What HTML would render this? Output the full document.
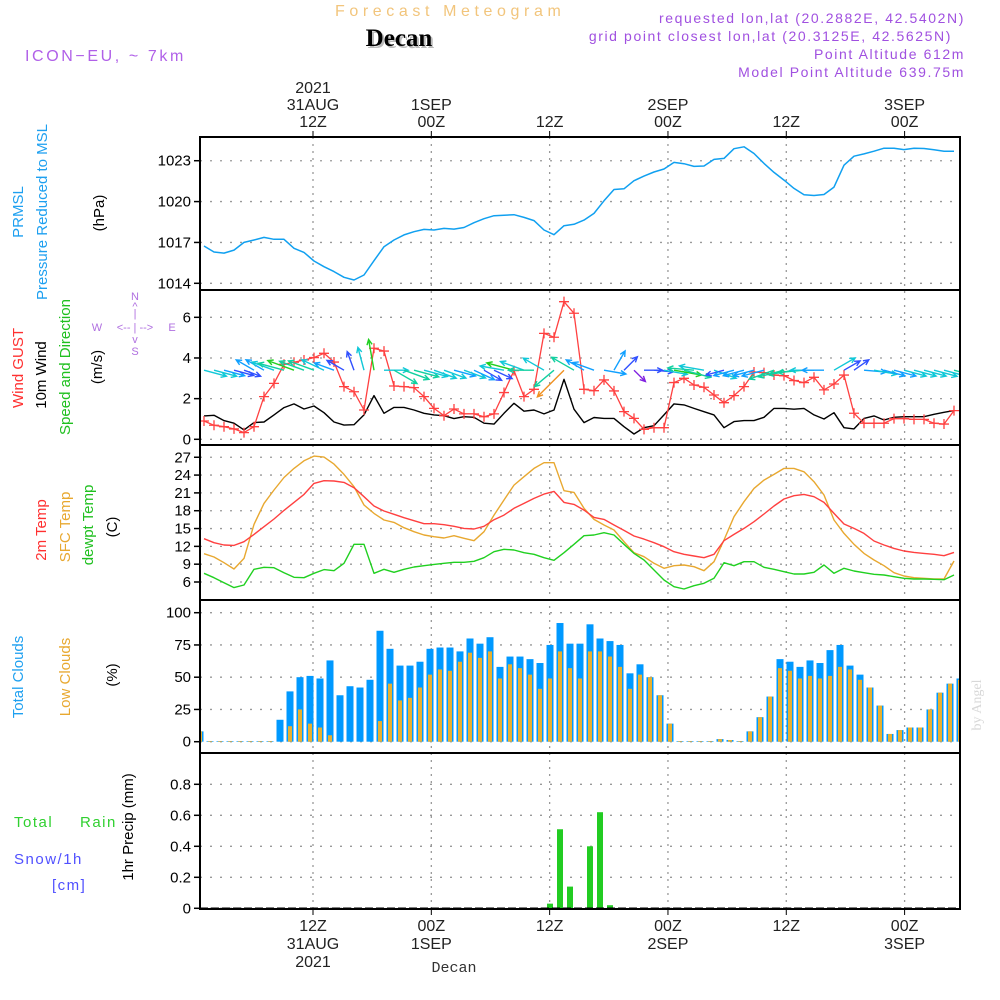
<!DOCTYPE html>
<html><head><meta charset="utf-8"><style>
html,body{margin:0;padding:0;background:#fff;}
svg{display:block;font-family:"Liberation Sans",sans-serif;}
</style></head><body>
<svg id="chart" width="1000" height="1000" viewBox="0 0 1000 1000" xmlns="http://www.w3.org/2000/svg">
<rect x="0" y="0" width="1000" height="1000" fill="#fff"/>
<text x="335" y="16" font-size="16" fill="#f2c57c" letter-spacing="4.6">Forecast Meteogram</text>
<text x="401" y="48" font-size="25" font-weight="bold" font-family="Liberation Serif, serif" fill="#bbb" text-anchor="middle">Decan</text>
<text x="399" y="46" font-size="25" font-weight="bold" font-family="Liberation Serif, serif" fill="#000" text-anchor="middle">Decan</text>
<text x="25" y="61" font-size="16" fill="#b060e8" letter-spacing="2.6">ICON−EU,  ~  7km</text>
<g font-size="14" fill="#a050e0" text-anchor="end" letter-spacing="1.6">
<text x="965" y="23">requested lon,lat (20.2882E, 42.5402N)</text>
<text x="952" y="41">grid point closest lon,lat (20.3125E, 42.5625N)</text>
<text x="965" y="59">Point Altitude 612m</text>
<text x="965" y="77">Model Point Altitude 639.75m</text>
</g>
<g id="topAxis" font-size="16" fill="#222" text-anchor="middle"></g>
<g id="bottomAxis" font-size="16" fill="#222" text-anchor="middle"></g>
<text x="454" y="972" font-size="15" font-family="Liberation Mono, monospace" fill="#333" text-anchor="middle">Decan</text>
<g id="grid"></g>
<g id="marks"></g>
<g id="frames"></g>
<g id="yticks" font-size="15" fill="#000" text-anchor="end"></g>
<g font-size="15">
<text transform="translate(23,212) rotate(-90)" text-anchor="middle" fill="#1ea0f0">PRMSL</text>
<text transform="translate(47,212) rotate(-90)" text-anchor="middle" fill="#1ea0f0">Pressure Reduced to MSL</text>
<text transform="translate(104,213) rotate(-90)" text-anchor="middle" fill="#000">(hPa)</text>
<text transform="translate(23,368) rotate(-90)" text-anchor="middle" fill="#ff3030">Wind GUST</text>
<text transform="translate(46,375) rotate(-90)" text-anchor="middle" fill="#000">10m Wind</text>
<text transform="translate(70,367) rotate(-90)" text-anchor="middle" fill="#20c020">Speed and Direction</text>
<text transform="translate(102,367) rotate(-90)" text-anchor="middle" fill="#000">(m/s)</text>
<text transform="translate(46,530) rotate(-90)" text-anchor="middle" fill="#ff3030">2m Temp</text>
<text transform="translate(70,527) rotate(-90)" text-anchor="middle" fill="#e8a830">SFC Temp</text>
<text transform="translate(93,525) rotate(-90)" text-anchor="middle" fill="#20c020">dewpt Temp</text>
<text transform="translate(117,527) rotate(-90)" text-anchor="middle" fill="#000">(C)</text>
<text transform="translate(23,677) rotate(-90)" text-anchor="middle" fill="#1ea0f0">Total Clouds</text>
<text transform="translate(70,677) rotate(-90)" text-anchor="middle" fill="#e8a830">Low Clouds</text>
<text transform="translate(117,675) rotate(-90)" text-anchor="middle" fill="#000">(%)</text>
<text transform="translate(133,827) rotate(-90)" text-anchor="middle" fill="#000">1hr Precip (mm)</text>
</g>
<g font-size="15" letter-spacing="1.5">
<text x="14" y="827" fill="#30d030">Total</text>
<text x="80" y="827" fill="#30d030">Rain</text>
<text x="14" y="864" fill="#5050ff">Snow/1h</text>
<text x="52" y="890" fill="#5050ff">[cm]</text>
</g>
<g font-size="11" fill="#b070e0" text-anchor="middle">
<text x="135" y="300">N</text>
<text x="135" y="310">^</text>
<text x="135" y="317">|</text>
<text x="97" y="331">W</text>
<text x="135" y="331">&lt;-- | --&gt;</text>
<text x="172" y="331">E</text>
<text x="135" y="343">v</text>
<text x="135" y="355">S</text>
</g>
<text transform="translate(981,705) rotate(-90)" font-size="14" font-family="Liberation Serif, serif" fill="#d8d8d8" text-anchor="middle">by Angel</text>
</svg>
<script>
const timeLabelsTop = [["2021","31AUG","12Z"],["1SEP","00Z"],["12Z"],["2SEP","00Z"],["12Z"],["3SEP","00Z"]];
const timeLabelsBottom = [["12Z","31AUG","2021"],["00Z","1SEP"],["12Z"],["00Z","2SEP"],["12Z"],["00Z","3SEP"]];
const timeTickHours = [12,24,36,48,60,72];
const pressureTicks = [1014,1017,1020,1023];
const windTicks = [0,2,4,6];
const tempTicks = [6,9,12,15,18,21,24,27];
const cloudTicks = [0,25,50,75,100];
const precipTicks = [0,0.2,0.4,0.6,0.8];
const pressure = [1016.74,1016.30,1016.22,1016.44,1017.0,1017.18,1017.37,1017.23,1017.23,1016.57,1016.27,1015.64,1015.22,1014.86,1014.44,1014.24,1014.61,1015.66,1016.69,1017.18,1017.55,1017.79,1017.96,1017.91,1018.03,1017.98,1018.1,1018.45,1018.74,1018.96,1018.99,1019.04,1018.84,1018.6,1017.91,1017.57,1018.23,1018.33,
1018.64,1019.13,1020.06,1020.89,1020.94,1021.53,1021.87,1022.17,1022.39,1022.88,1022.78,1022.58,1022.61,1023.1,1023.17,1023.88,1024.02,1023.53,1022.8,1022.14,1021.58,1020.97,1020.5,1020.45,1020.52,1021.06,1022.67,1023.33,1023.5,1023.7,1023.92,1023.92,1023.82,1023.92,1023.9,1023.8,1023.7,1023.7];
const gust = [0.9,0.69,0.62,0.51,0.33,0.62,2.1,2.75,3.69,3.79,3.9,4.02,4.23,3.8,2.59,2.34,1.44,4.48,4.34,2.62,2.59,2.54,2.1,1.52,1.16,1.49,1.25,1.25,1.11,1.25,2.3,3.38,2.1,2.46,5.21,5.02,6.77,6.2,
2.46,2.39,2.92,2.38,1.36,1.03,0.49,0.57,0.57,2.79,3.0,2.67,2.56,2.18,1.8,2.15,2.59,3.31,3.28,3.16,3.13,2.89,2.79,3.05,2.43,2.72,3.16,1.28,0.79,0.79,0.79,1.02,1.02,0.98,0.98,0.79,0.75,1.41];
const wind10 = [1.15,1.18,0.92,0.79,0.46,0.82,0.85,1.2,1.56,1.74,1.49,1.64,1.31,0.85,0.7,0.72,1.2,2.15,1.28,1.57,1.57,1.44,1.28,1.2,1.16,1.02,1.11,1.08,0.79,0.75,1.28,1.77,1.38,1.44,1.25,1.44,2.95,1.48,
0.82,1.07,1.03,1.03,0.62,0.26,0.57,0.67,1.2,1.74,1.69,1.52,1.36,1.2,0.57,0.87,0.92,0.92,1.08,1.52,1.52,1.48,1.52,1.2,1.0,1.31,0.57,0.51,1.03,1.15,0.95,1.08,1.11,1.11,1.11,1.23,1.33,1.41];
const windDir = [-15,-15,-15,-15,-20,150,150,160,165,160,160,160,155,160,150,110,105,100,0,-30,-20,-15,-15,-20,-20,-15,-20,-25,-30,-25,170,165,160,180,150,220,225,150,
150,160,-10,60,45,-45,0,-5,-10,-10,-15,175,170,-20,195,195,195,195,195,200,195,190,185,180,180,30,30,35,-5,-10,-15,-15,-15,-15,-15,-15,-15,-15];
const temp2m = [13.29,12.62,12.23,12.17,12.79,14.02,15.31,16.6,18.06,19.4,20.75,22.6,23.05,23.0,22.77,21.87,20.36,18.79,17.95,17.39,16.82,16.32,15.81,15.81,15.65,15.37,15.03,14.92,15.37,16.49,17.27,18.4,19.24,20.08,20.8,21.25,19.4,19.07,
18.11,16.88,16.54,15.59,14.69,13.74,13.23,12.62,11.95,11.1,10.66,10.37,10.09,10.66,12.95,14.02,15.03,16.15,17.44,18.79,19.97,20.53,20.75,20.36,19.4,17.55,15.76,15.03,14.19,12.9,12.23,11.66,11.22,10.99,10.82,10.66,10.43,10.99];
const tempSfc = [10.77,10.21,9.25,8.19,9.98,15.7,19.24,21.48,23.6,25.12,26.41,27.2,27.03,25.85,24.12,22.04,18.96,17.55,16.43,16.04,15.14,14.47,13.91,13.63,13.4,13.8,13.35,12.95,14.47,17.27,19.8,22.32,23.72,25.12,26.08,26.08,21.37,21.09,
18.4,16.54,15.59,14.75,12.79,10.94,10.26,9.14,8.3,8.75,8.86,8.58,7.91,9.42,13.07,17.0,19.52,21.76,23.16,24.12,25.12,25.12,24.56,22.88,20.64,16.43,14.19,12.34,10.82,9.7,8.75,7.57,7.01,6.73,6.62,6.5,6.5,9.53];
const dewpt = [7.46,6.73,5.89,5.05,5.5,8.13,8.47,8.41,7.57,6.79,6.73,7.46,8.08,7.91,9.14,12.34,12.34,7.46,8.13,7.63,8.13,8.52,8.75,8.97,9.14,9.31,9.31,9.48,10.09,11.1,11.5,11.38,10.94,10.66,10.09,9.65,10.94,12.34,
13.8,13.91,14.3,13.91,12.34,10.82,9.7,8.02,6.34,5.21,4.82,5.38,5.78,6.62,9.25,8.75,9.42,9.42,8.47,8.13,7.74,7.35,7.35,7.63,8.86,7.46,8.3,7.85,7.57,7.29,7.18,6.9,6.62,6.5,6.5,6.45,6.39,7.18];
const cloudTotal = [8,0.5,0.5,0.5,0.5,0.5,0.5,0.5,17,39,50,51,49,63,36,43,42,48,86,72,59,59,62,72,73,73,70,80,76,81,58,66,66,64,61,75,92,76,76,91,
80,78,75,53,60,50,36,14,0.5,0.5,0.5,0.5,2,1.3,0.5,8,19,35,64,62,58,63,61,71,75,59,52,42,28,6,9,11,11,25,38,45,49];
const cloudLow = [8,0.5,0.5,0.5,0.5,0.5,0.5,0.5,0,12,25,14,11,5,0,0,0,0,16,45,32,34,42,52,56,55,62,69,65,70,49,60,57,52,41,49,70,57,49,70,
70,66,58,41,52,50,36,14,0.5,0.5,0.5,0.5,2,1.3,0.5,8,19,35,57,55,49,51,49,51,58,56,48,42,28,6,9,11,11,25,38,45,48];
const precip = [0,0,0,0,0,0,0,0,0,0,0,0,0,0,0,0,0,0,0,0,0,0,0,0,0,0,0,0,0,0,0,0,0,0,0,0.03,0.51,0.14,0,0.40,0.62,0.02,
0,0,0,0,0,0,0,0,0,0,0,0,0,0,0,0,0,0,0,0,0,0,0,0,0,0,0,0,0,0,0,0,0,0,0];

const X0 = 200, X1 = 960;
const xHour = h => 313 + (h - 12) * 9.86;
const xLine = i => 204 + i * 10;
const xBar = i => 200 + i * 10;
const yP = v => 283.3 - (v - 1014) * 13.62;
const yW = v => 439.3 - v * 20.33;
const yT = v => 582 - (v - 6) * 5.94;
const yC = v => 741.7 - v * 1.29;
const yR = v => 908.3 - v * 155;
const panels = [[137,290],[290,445],[445,600],[600,753],[753,909]];

const NS = "http://www.w3.org/2000/svg";
function mk(tag, attrs, parent){
  const e = document.createElementNS(NS, tag);
  for (const k in attrs) e.setAttribute(k, attrs[k]);
  parent.appendChild(e);
  return e;
}
const grid = document.getElementById('grid');
const marks = document.getElementById('marks');
const frames = document.getElementById('frames');
const yticks = document.getElementById('yticks');
const topAxis = document.getElementById('topAxis');
const bottomAxis = document.getElementById('bottomAxis');

const defs = mk('defs', {}, document.getElementById('chart'));
const cp = mk('clipPath', {id:'plotclip'}, defs);
mk('rect', {x:X0, y:137, width:X1-X0, height:909-137}, cp);
marks.setAttribute('clip-path','url(#plotclip)');

timeTickHours.forEach((h, k) => {
  const x = xHour(h);
  const gl = mk('line', {x1:x, x2:x, y1:137, y2:909, stroke:'#999', 'stroke-width':1.3, 'stroke-dasharray':'2,5'}, grid);
  
  
  mk('line', {x1:x, x2:x, y1:131, y2:137, stroke:'#000', 'stroke-width':1}, frames);
  mk('line', {x1:x, x2:x, y1:909, y2:915, stroke:'#000', 'stroke-width':1}, frames);
  const tl = timeLabelsTop[k];
  tl.forEach((s, j) => {
    const t = mk('text', {x:x, y:127 - (tl.length - 1 - j) * 17}, topAxis);
    t.textContent = s;
    
    
  });
  const bl = timeLabelsBottom[k];
  bl.forEach((s, j) => {
    const t = mk('text', {x:x, y:931 + j * 18}, bottomAxis);
    t.textContent = s;
    
    
  });
});

function yAxis(ticks, scale, fmt){
  ticks.forEach(v => {
    const y = scale(v);
    const gl = mk('line', {x1:X0, x2:X1, y1:y, y2:y, stroke:'#999', 'stroke-width':1.3, 'stroke-dasharray':'2,8'}, grid);
    
    
    mk('line', {x1:X0-6, x2:X0, y1:y, y2:y, stroke:'#000', 'stroke-width':1.5}, frames);
    const t = mk('text', {x:X0-9, y:y+5}, yticks);
    t.textContent = fmt ? fmt(v) : v;
    
    
  });
}
yAxis(pressureTicks, yP);
yAxis(windTicks, yW);
yAxis(tempTicks, yT);
yAxis(cloudTicks, yC);
yAxis(precipTicks, yR, v => v === 0 ? '0' : v.toFixed(1));

panels.forEach(p => {
  const r = mk('rect', {x:X0, y:p[0], width:X1-X0, height:p[1]-p[0], fill:'none', stroke:'#000', 'stroke-width':2}, frames);
  
  
});

function line(arr, xs, ys, color, name, w){
  const pts = arr.map((v, i) => xs(i).toFixed(1) + ',' + ys(v).toFixed(1)).join(' ');
  const pl = mk('polyline', {points:pts, fill:'none', stroke:color, 'stroke-width':w || 1.4, 'stroke-linejoin':'round'}, marks);
  
  
}

cloudTotal.forEach((v, i) => {
  const x = xBar(i);
  const b = mk('rect', {x:x-3.5, y:yC(v), width:7, height:yC(0)-yC(v), fill:'#0099ff'}, marks);
  
  
});
cloudLow.forEach((v, i) => {
  const x = xBar(i);
  const b = mk('rect', {x:x-2, y:yC(v), width:4, height:yC(0)-yC(v), fill:'#e8b030'}, marks);
  
  
});
precip.forEach((v, i) => {
  if (v <= 0) return;
  const x = xBar(i);
  const b = mk('rect', {x:x-3, y:yR(v), width:6, height:yR(0)-yR(v), fill:'#22cc22'}, marks);
  
  
});
const base = mk('line', {x1:X0, x2:X1, y1:yR(0), y2:yR(0), stroke:'#000', 'stroke-width':1.5, 'stroke-dasharray':'8,3'}, marks);



line(pressure, xLine, yP, '#10a0f0', 'pressure-line', 1.5);
line(wind10, xLine, yW, '#000', 'wind-10m-line', 1.4);
line(gust, xLine, yW, '#ff4040', 'wind-gust-line', 1.3);
gust.forEach((v, i) => {
  const x = xLine(i), y = yW(v);
  const p = mk('path', {d:`M${x-5},${y}H${x+5}M${x},${y-5}V${y+5}`, stroke:'#ff4040', 'stroke-width':1.3}, marks);
  
  
});
line(tempSfc, xLine, yT, '#e8a830', 'sfc-temp-line', 1.4);
line(temp2m, xLine, yT, '#ff4040', 'temp-2m-line', 1.4);
line(dewpt, xLine, yT, '#20d020', 'dewpoint-line', 1.4);

function windColor(s){
  if (s < 0.45) return '#8020e0';
  if (s < 0.8) return '#3050ff';
  if (s < 1.1) return '#10a0ff';
  if (s < 1.4) return '#10c8d8';
  if (s < 1.7) return '#10d0a0';
  if (s < 2.3) return '#20d020';
  if (s < 2.7) return '#a0e020';
  return '#f09020';
}
windDir.forEach((d, i) => {
  const s = wind10[i];
  const len = 14 + s * 8;
  const a = d * Math.PI / 180;
  const x0 = xLine(i), y0 = yW(3.4);
  const x1 = x0 + Math.cos(a) * len, y1 = y0 - Math.sin(a) * len;
  const h = 6, ha = 0.45;
  const hx1 = x1 - Math.cos(a - ha) * h, hy1 = y1 + Math.sin(a - ha) * h;
  const hx2 = x1 - Math.cos(a + ha) * h, hy2 = y1 + Math.sin(a + ha) * h;
  const p = mk('path', {d:`M${x0.toFixed(1)},${y0.toFixed(1)}L${x1.toFixed(1)},${y1.toFixed(1)}M${hx1.toFixed(1)},${hy1.toFixed(1)}L${x1.toFixed(1)},${y1.toFixed(1)}L${hx2.toFixed(1)},${hy2.toFixed(1)}`,
    stroke:windColor(s), 'stroke-width':1.4, fill:'none'}, marks);
  
  
});
</script>
</body></html>
